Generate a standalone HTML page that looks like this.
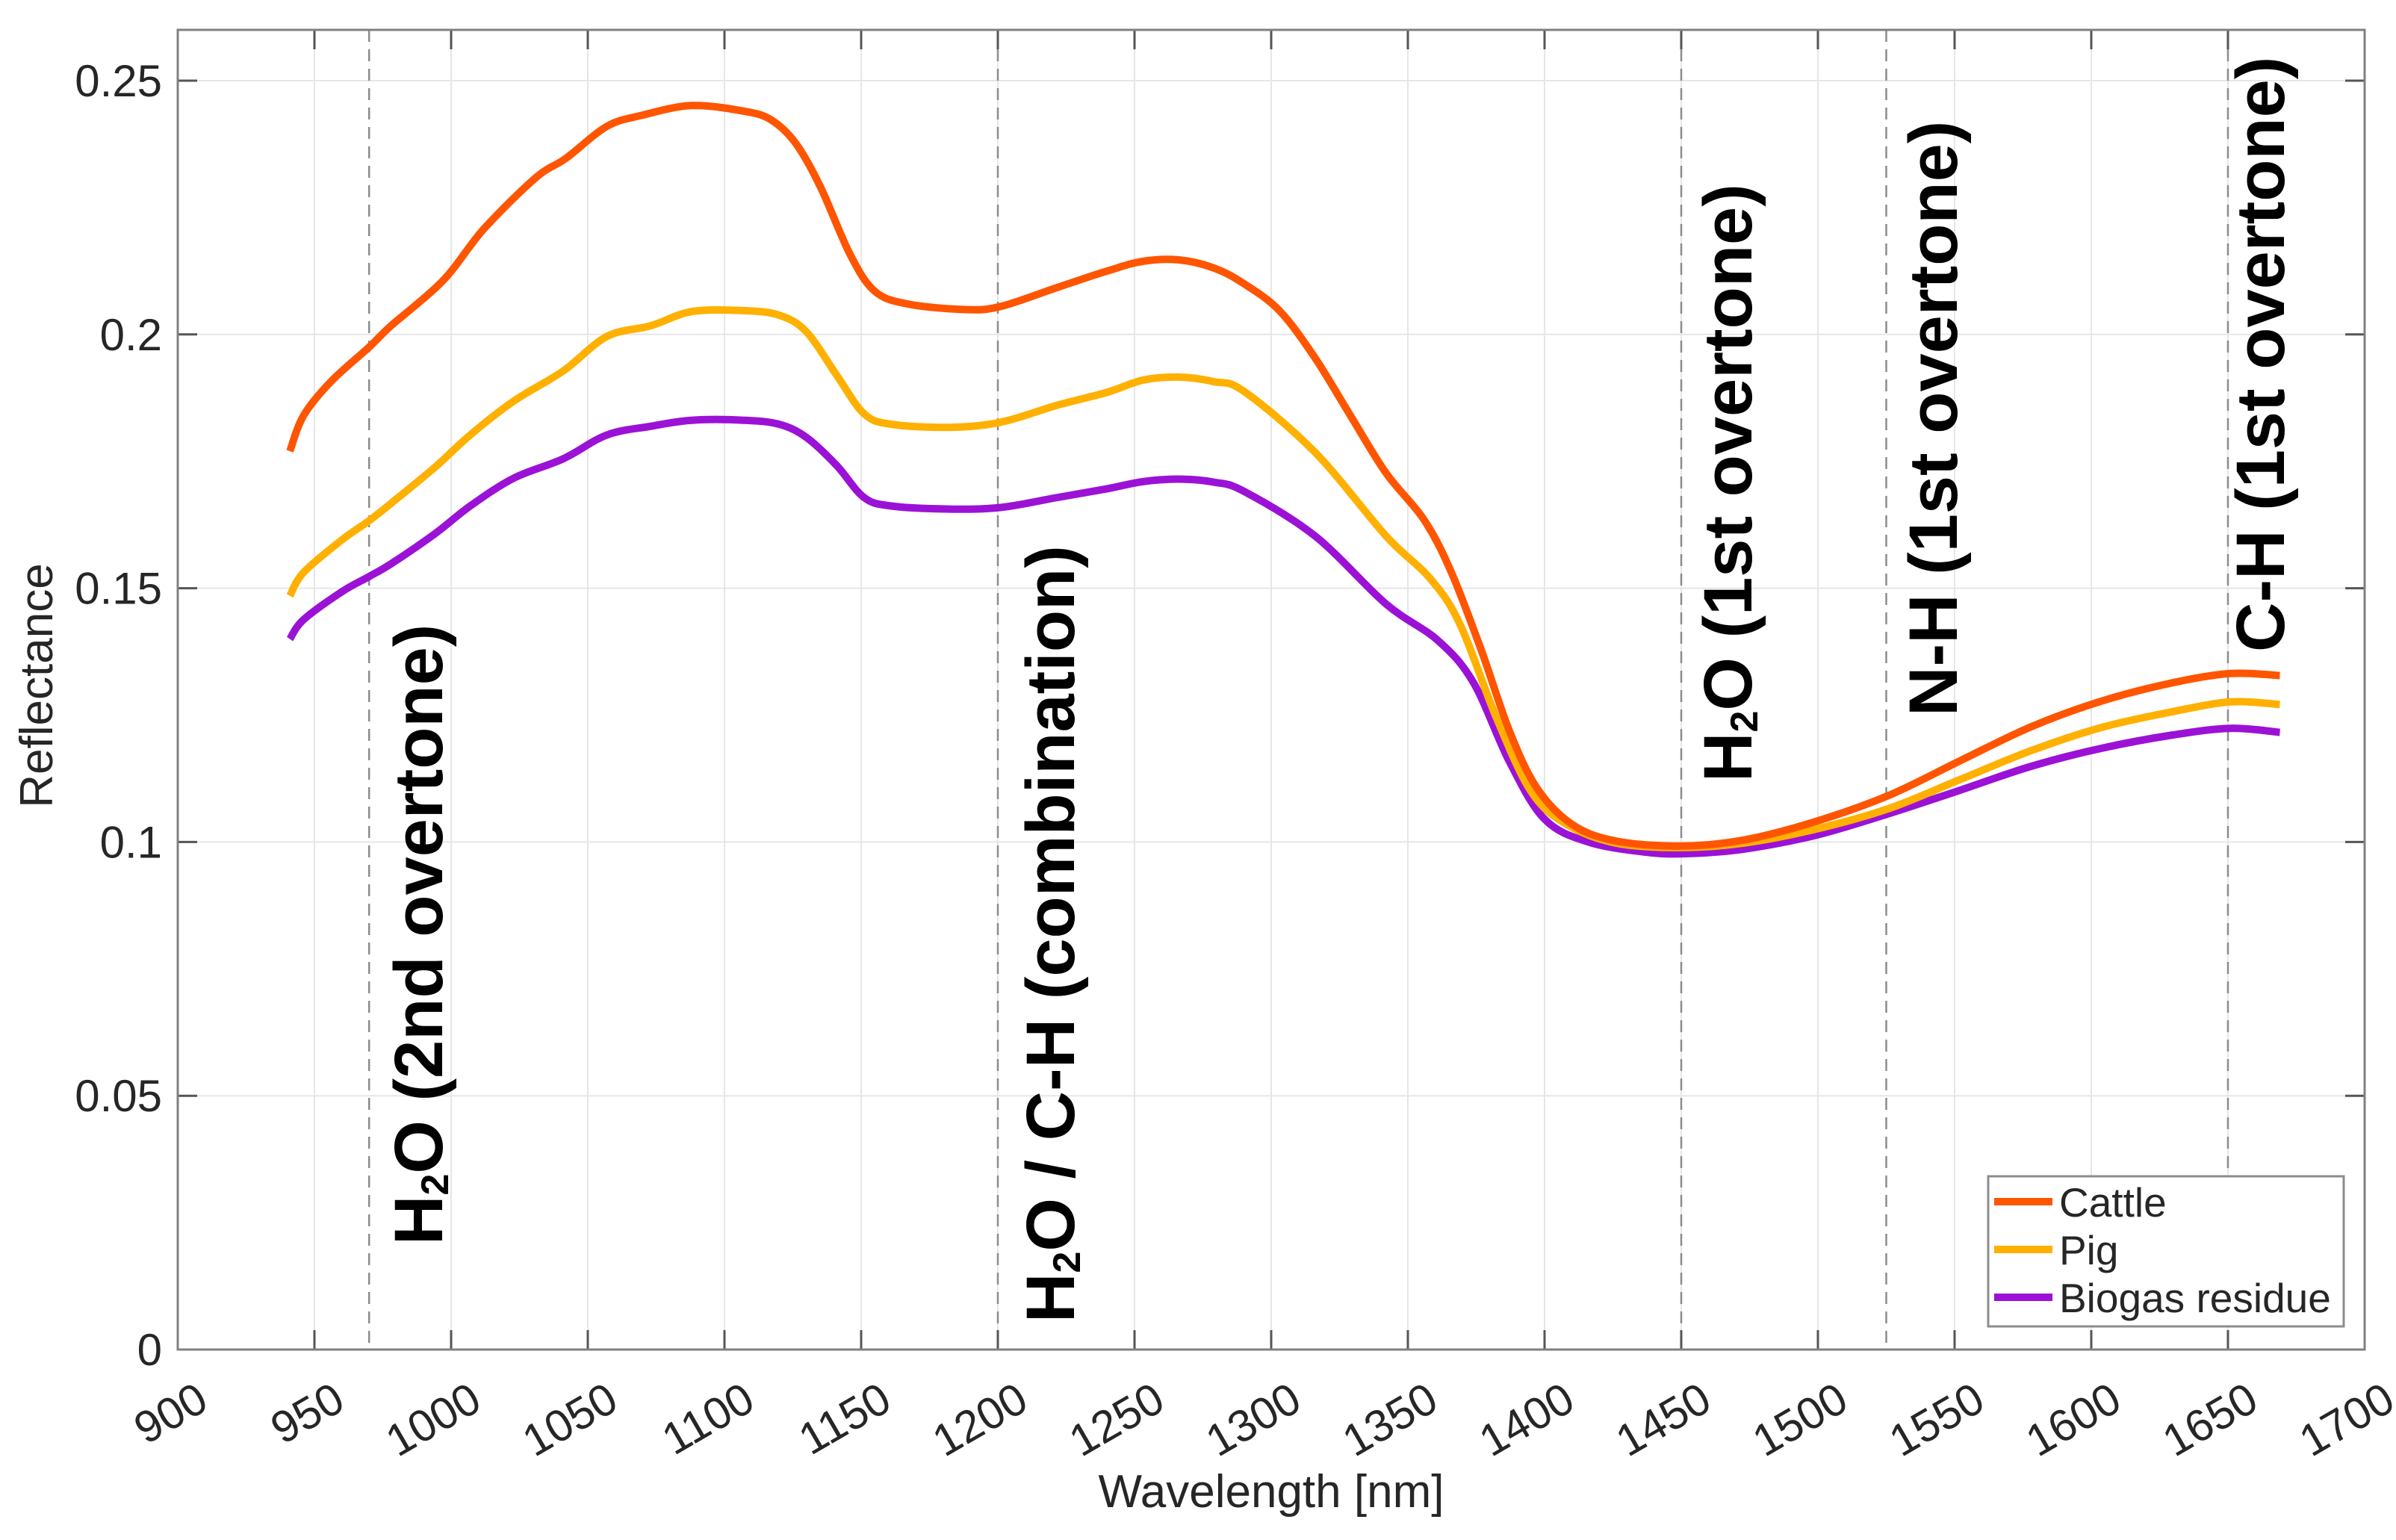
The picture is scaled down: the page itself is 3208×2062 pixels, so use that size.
<!DOCTYPE html>
<html><head><meta charset="utf-8">
<style>
html,body{margin:0;padding:0;background:#fff;}
svg{display:block;font-family:"Liberation Sans",Arial,sans-serif;}
</style></head>
<body>
<svg id="chart" width="3208" height="2062" viewBox="0 0 3208 2062" xmlns="http://www.w3.org/2000/svg">
<rect x="0" y="0" width="3208" height="2062" fill="#fff"/>
<g id="grid"></g>
<g id="vlines"></g>
<g id="series"></g>
<g id="axes"></g>
<g id="annots"></g>
<text x="1702" y="2018" font-size="62" text-anchor="middle" fill="#262626">Wavelength [nm]</text>
<text transform="translate(70,918) rotate(-90)" font-size="62" text-anchor="middle" fill="#262626">Reflectance</text>
<g id="legend"></g>
</svg>
<script>
const xTicks = [900,950,1000,1050,1100,1150,1200,1250,1300,1350,1400,1450,1500,1550,1600,1650,1700];
const yTicks = [0,0.05,0.1,0.15,0.2,0.25];
const yTickLabels = ["0","0.05","0.1","0.15","0.2","0.25"];
const bandPositions = [970,1200,1450,1525,1650];
const seriesNames = ["Cattle","Pig","Biogas residue"];
const cattleWl = [941,946,956,970,978,997,1012,1031,1042,1057,1070,1088,1107,1117,1126,1135,1146,1155,1167,1188,1201,1222,1240,1253,1266,1279,1290,1303,1316,1329,1342,1356,1366,1377,1387,1397,1410,1426,1450,1473,1499,1526,1552,1578,1604,1630,1651,1669];
const cattleVal = [0.177,0.184,0.1907,0.1975,0.2017,0.2106,0.2208,0.2309,0.2347,0.241,0.2432,0.2451,0.244,0.2423,0.2377,0.2292,0.2157,0.2085,0.206,0.2049,0.2055,0.2093,0.2125,0.2144,0.2147,0.2131,0.2100,0.2047,0.1954,0.184,0.1727,0.1634,0.153,0.1376,0.1221,0.1108,0.1035,0.1002,0.0992,0.1004,0.104,0.1092,0.116,0.1227,0.1278,0.1314,0.1332,0.1328];
const pigWl = [941,946,960,970,978,994,1007,1023,1041,1057,1073,1088,1107,1120,1130,1141,1151,1161,1182,1201,1222,1240,1253,1266,1279,1290,1316,1342,1358,1369,1382,1395,1408,1426,1450,1473,1499,1526,1552,1578,1604,1630,1651,1669];
const pigVal = [0.1485,0.1531,0.1595,0.1633,0.1667,0.1738,0.1802,0.1869,0.1928,0.1996,0.2017,0.2045,0.2047,0.2038,0.2005,0.192,0.1844,0.1823,0.1817,0.1827,0.1861,0.1886,0.191,0.1916,0.1907,0.1888,0.1768,0.1603,0.152,0.1430,0.1250,0.1100,0.1035,0.0998,0.0989,0.0998,0.1025,0.1066,0.1123,0.118,0.1226,0.1257,0.1276,0.1271];
const bioWl = [941,946,960,970,978,994,1007,1023,1041,1057,1073,1088,1107,1120,1130,1141,1151,1161,1182,1201,1222,1240,1253,1266,1279,1290,1316,1342,1361,1374,1387,1400,1416,1437,1452,1473,1499,1526,1552,1578,1604,1630,1651,1669];
const bioVal = [0.14,0.1438,0.1493,0.1523,0.1548,0.1607,0.1662,0.1717,0.1755,0.1802,0.1819,0.1831,0.1831,0.1823,0.1797,0.1742,0.1679,0.1662,0.1656,0.1659,0.1679,0.1696,0.171,0.1715,0.1709,0.1691,0.1603,0.1469,0.1397,0.1314,0.1160,0.1045,0.1000,0.0980,0.0977,0.0986,0.1013,0.1056,0.1102,0.1149,0.1185,0.1211,0.1224,0.1216];

const NS = "http://www.w3.org/2000/svg";
const L = 238, R = 3166, T = 40, B = 1807;
const xMin = 900, xMax = 1700, yMin = 0;
function sx(v){ return L + (v - xMin) / (xMax - xMin) * (R - L); }
function sy(v){ return B - (v - yMin) * 6796; }
function mk(tag, attrs, parent){ const e = document.createElementNS(NS, tag); for (const k in attrs) e.setAttribute(k, attrs[k]); parent.appendChild(e); return e; }
function smooth(pts){
  let d = 'M' + pts[0][0].toFixed(1) + ',' + pts[0][1].toFixed(1);
  for (let i = 0; i < pts.length - 1; i++) {
    const p0 = pts[Math.max(0, i-1)], p1 = pts[i], p2 = pts[i+1], p3 = pts[Math.min(pts.length-1, i+2)];
    const c1 = [p1[0] + (p2[0]-p0[0])/6, p1[1] + (p2[1]-p0[1])/6];
    const c2 = [p2[0] - (p3[0]-p1[0])/6, p2[1] - (p3[1]-p1[1])/6];
    d += 'C' + c1[0].toFixed(1) + ',' + c1[1].toFixed(1) + ' ' + c2[0].toFixed(1) + ',' + c2[1].toFixed(1) + ' ' + p2[0].toFixed(1) + ',' + p2[1].toFixed(1);
  }
  return d;
}

const grid = document.getElementById('grid');
const axes = document.getElementById('axes');
xTicks.forEach(t => {
  const x = sx(t);
  const g = mk('line', {x1:x, x2:x, y1:T, y2:B, stroke:'#e6e6e6', 'stroke-width':2}, grid);
  
  
  const tk = mk('path', {d:`M${x},${B}V${B-26}M${x},${T}V${T+26}`, stroke:'#555', 'stroke-width':3}, axes);
  
  
  const lb = mk('text', {transform:`translate(${x+44},${B+78}) rotate(-30)`, 'font-size':60, 'text-anchor':'end', fill:'#262626'}, axes);
  lb.textContent = t;
  
  
});
yTicks.forEach((t, i) => {
  const y = sy(t);
  const g = mk('line', {x1:L, x2:R, y1:y, y2:y, stroke:'#e6e6e6', 'stroke-width':2}, grid);
  
  
  const tk = mk('path', {d:`M${L},${y}H${L+26}M${R},${y}H${R-26}`, stroke:'#555', 'stroke-width':3}, axes);
  
  
  const lb = mk('text', {x:217, y:y+21, 'font-size':60, 'text-anchor':'end', fill:'#262626'}, axes);
  lb.textContent = yTickLabels[i];
  
  
});
const frame = mk('rect', {x:L, y:T, width:R-L, height:B-T, fill:'none', stroke:'#808080', 'stroke-width':3}, axes);



const vl = document.getElementById('vlines');
bandPositions.forEach(b => {
  const x = sx(b);
  const l = mk('line', {x1:x, x2:x, y1:T, y2:B, stroke:'#8c8c8c', 'stroke-width':2.5, 'stroke-dasharray':'16,10'}, vl);
  
  
});

const ser = document.getElementById('series');
const colors = ['#FF5500','#FFB000','#9B12D6'];
const wls = [cattleWl, pigWl, bioWl];
const vals = [cattleVal, pigVal, bioVal];
const snames = ['cattle-line','pig-line','biogas-residue-line'];
[2,1,0].forEach(i => {
  const pts = wls[i].map((w, j) => [sx(w), sy(vals[i][j])]);
  const p = mk('path', {d:smooth(pts), fill:'none', stroke:colors[i], 'stroke-width':10, 'stroke-linejoin':'round', 'stroke-linecap':'butt'}, ser);
  
  
});

const an = document.getElementById('annots');
const annots = [
  {x:592, y:1667, pre:'H', sub:'2', post:'O (2nd overtone)', name:'annotation-h2o-2nd-overtone'},
  {x:1438, y:1771, pre:'H', sub:'2', post:'O / C-H (combination)', name:'annotation-h2o-ch-combination'},
  {x:2345, y:1047, pre:'H', sub:'2', post:'O (1st overtone)', name:'annotation-h2o-1st-overtone'},
  {x:2620, y:959, pre:'', sub:'', post:'N-H (1st overtone)', name:'annotation-nh-1st-overtone'},
  {x:3058, y:873, pre:'', sub:'', post:'C-H (1st overtone)', name:'annotation-ch-1st-overtone'}
];
annots.forEach(a => {
  const t = mk('text', {transform:`translate(${a.x},${a.y}) rotate(-90)`, 'font-size':92, 'font-weight':'bold', fill:'#000'}, an);
  
  
  if (a.sub) {
    const t1 = mk('tspan', {}, t); t1.textContent = a.pre;
    const t2 = mk('tspan', {'font-size':52, dy:8}, t); t2.textContent = a.sub;
    const t3 = mk('tspan', {dy:-8}, t); t3.textContent = a.post;
  } else {
    t.textContent = a.post;
  }
});

const lg = document.getElementById('legend');
const box = mk('rect', {x:2662, y:1575, width:476, height:201, fill:'#fff', stroke:'#8c8c8c', 'stroke-width':3}, lg);


const ly = [1609, 1673, 1737];
seriesNames.forEach((n, i) => {
  const l = mk('line', {x1:2670, x2:2748, y1:ly[i], y2:ly[i], stroke:colors[i], 'stroke-width':10}, lg);
  
  
  const t = mk('text', {x:2757, y:ly[i]+20, 'font-size':55, fill:'#262626'}, lg);
  t.textContent = n;
  
  
});
</script>
</body></html>
